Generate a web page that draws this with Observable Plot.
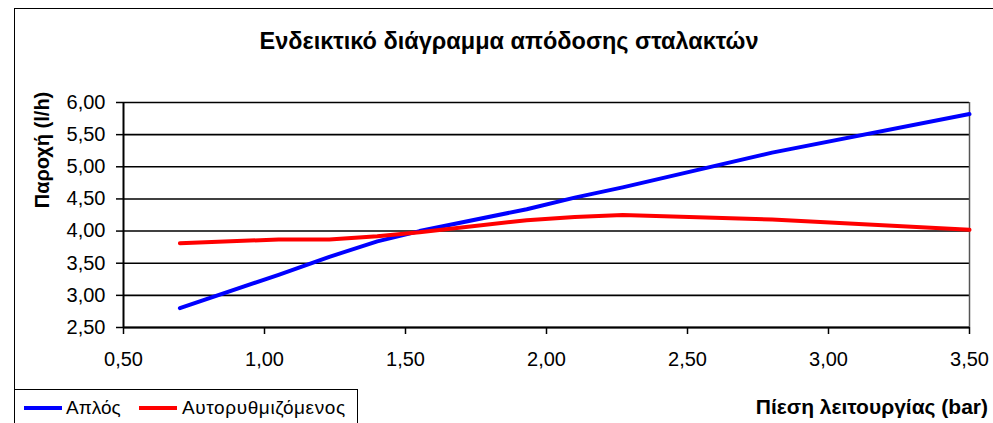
<!DOCTYPE html>
<html>
<head>
<meta charset="utf-8">
<script src="https://cdn.jsdelivr.net/npm/d3@7"></script>
<script src="https://cdn.jsdelivr.net/npm/@observablehq/plot@0.6"></script>
<style>
  html, body { margin: 0; padding: 0; background: #fff; }
  #wrap { position: relative; width: 993px; height: 423px; overflow: hidden; background: #fff; font-family: "Liberation Sans", Arial, sans-serif; color: #000; }
  #wrap svg { position: absolute; left: 0; top: 0; }
  .abs { position: absolute; white-space: nowrap; }
</style>
</head>
<body>
<div id="wrap">
  <div class="abs" id="frame" style="left:14px; top:8px; width:1100px; height:600px; border-left:1.5px solid #000; border-top:1.5px solid #000;"></div>
</div>
<script>
// ---- data ----
const pressure = [0.70, 1.05, 1.23, 1.40, 1.55, 1.93, 2.10, 2.27, 2.80, 3.50];
const simpleFlow = [2.80, 3.32, 3.60, 3.84, 4.00, 4.34, 4.52, 4.68, 5.22, 5.82];
const regulatedFlow = [3.81, 3.87, 3.87, 3.92, 3.98, 4.17, 4.22, 4.25, 4.18, 4.02];
const seriesNames = ["Απλός", "Αυτορυθμιζόμενος"];
const seriesColors = ["#0000FF", "#FF0000"];
const xTicks = [0.5, 1.0, 1.5, 2.0, 2.5, 3.0, 3.5];
const yTicks = [2.5, 3.0, 3.5, 4.0, 4.5, 5.0, 5.5, 6.0];
const titleText = "Ενδεικτικό διάγραμμα απόδοσης σταλακτών";
const yLabelText = "Παροχή (l/h)";
const xLabelText = "Πίεση λειτουργίας (bar)";

const rows = [
  ...pressure.map((p, i) => ({series: seriesNames[0], x: p, y: simpleFlow[i]})),
  ...pressure.map((p, i) => ({series: seriesNames[1], x: p, y: regulatedFlow[i]}))
];
const fmt = d => d.toFixed(2).replace(".", ",");

const chart = Plot.plot({
  width: 993,
  height: 423,
  marginLeft: 123,
  marginRight: 24,
  marginTop: 102,
  marginBottom: 96,
  style: {fontFamily: "'Liberation Sans', Arial, sans-serif", fontSize: "20px", color: "#000", background: "transparent", overflow: "visible"},
  x: {domain: [0.5, 3.5]},
  y: {domain: [2.5, 6.0]},
  color: {domain: seriesNames, range: seriesColors},
  marks: [
    Plot.gridY(yTicks, {stroke: "#000", strokeOpacity: 1, strokeWidth: 1.6}),
    Plot.ruleX([3.5], {stroke: "#555", strokeWidth: 1.5}),
    Plot.axisY({ticks: yTicks, tickFormat: fmt, tickSize: 7, tickPadding: 11, fontSize: 20, stroke: "#000", strokeWidth: 1.5, label: null}),
    Plot.axisX({ticks: xTicks, tickFormat: fmt, tickSize: 7, tickPadding: 17, fontSize: 20, stroke: "#000", strokeWidth: 1.5, label: null}),
    Plot.ruleX([0.5], {stroke: "#000", strokeWidth: 2}),
    Plot.ruleY([2.5], {stroke: "#000", strokeWidth: 2}),
    Plot.line(rows, {x: "x", y: "y", stroke: "series", z: "series", strokeWidth: 4})
  ]
});
const wrap = document.getElementById("wrap");
wrap.appendChild(chart);

function addText(text, css) {
  const d = document.createElement("div");
  d.className = "abs";
  d.textContent = text;
  Object.assign(d.style, css);
  wrap.appendChild(d);
  return d;
}
addText(titleText, {left: "509px", top: "29px", fontSize: "23.5px", lineHeight: "24px", fontWeight: "bold", transform: "translateX(-50%)"});
addText(yLabelText, {left: "42px", top: "150px", fontSize: "20px", lineHeight: "20px", fontWeight: "bold", transform: "translate(-50%,-50%) rotate(-90deg)"});
addText(xLabelText, {right: "5px", top: "396px", fontSize: "21px", lineHeight: "22px", fontWeight: "bold"});

// legend
const leg = document.createElement("div");
leg.className = "abs";
Object.assign(leg.style, {left: "14px", top: "389px", width: "342px", height: "60px", border: "1.5px solid #000", background: "#fff"});
wrap.appendChild(leg);
const swX = [9, 124];
const txX = [51, 167];
seriesNames.forEach((name, i) => {
  const sw = document.createElement("div");
  sw.className = "abs";
  Object.assign(sw.style, {left: swX[i] + "px", top: "16px", width: "38px", height: "4px", background: seriesColors[i]});
  leg.appendChild(sw);
  const t = document.createElement("div");
  t.className = "abs";
  t.textContent = name;
  Object.assign(t.style, {left: txX[i] + "px", top: "7px", fontSize: "19px", lineHeight: "22px", letterSpacing: i === 1 ? "0.6px" : "0px"});
  leg.appendChild(t);
});
</script>
</body>
</html>
